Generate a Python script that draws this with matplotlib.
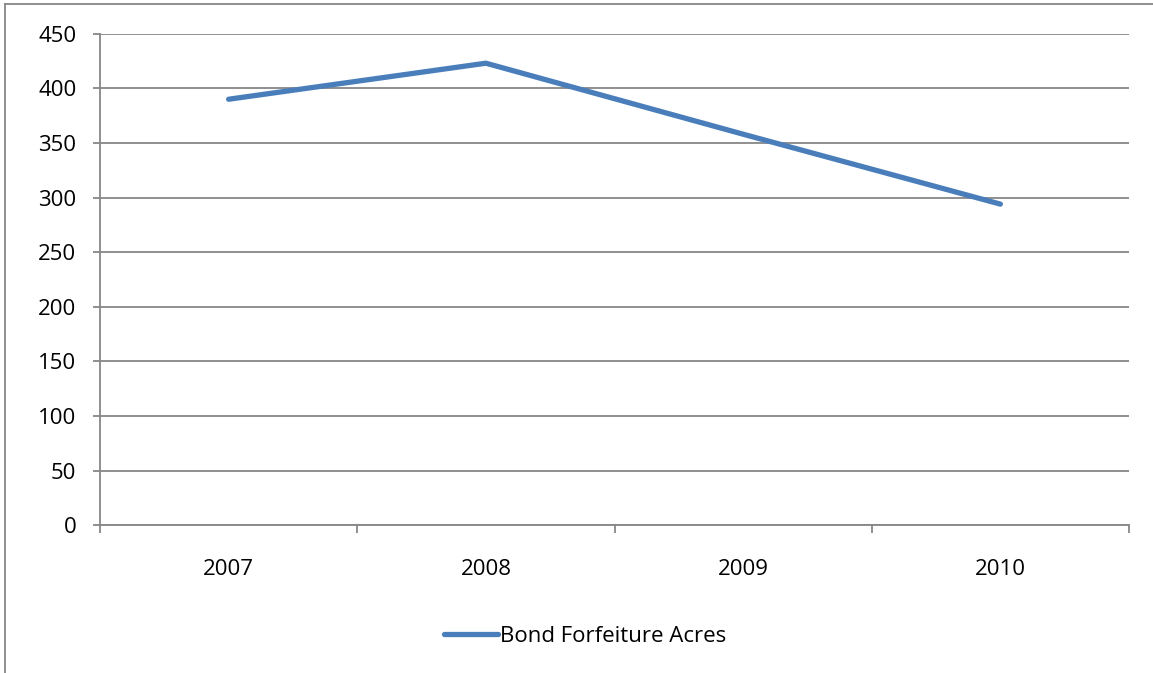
import matplotlib
matplotlib.use('Agg')
import matplotlib.pyplot as plt
from matplotlib.lines import Line2D

years = ['2007', '2008', '2009', '2010']
acres = [390, 423, 358, 294]
y_ticks = [0, 50, 100, 150, 200, 250, 300, 350, 400, 450]

plt.rcParams['font.family'] = ['Open Sans', 'DejaVu Sans']
W, H = 1153, 673
fig = plt.figure(figsize=(W / 100, H / 100), dpi=100)
ax = fig.add_axes([100 / W, 1 - 525.3 / H, 1029 / W, (525.3 - 33.7) / H])

grid_c = '#878787'
x = range(len(years))
ax.plot(x, acres, color='#4A7EBB', lw=3.8, solid_capstyle='round',
        solid_joinstyle='miter', label='Bond Forfeiture Acres', zorder=3)

ax.set_xlim(-0.5, len(years) - 0.5)
ax.set_ylim(0, 450)
ax.set_yticks(y_ticks)
ax.set_yticklabels([str(v) for v in y_ticks])
ax.yaxis.grid(True, color=grid_c, lw=1.3)
ax.set_axisbelow(True)

ax.set_xticks(list(x))
ax.set_xticklabels(years)
ax.set_xticks([i - 0.5 for i in range(len(years) + 1)], minor=True)
ax.tick_params(axis='x', which='major', length=0, pad=24, labelsize=16)
ax.tick_params(axis='x', which='minor', length=6, width=1.3, color=grid_c)
ax.tick_params(axis='y', length=5, width=1.3, color=grid_c, pad=12, labelsize=16)

for s in ['top', 'right']:
    ax.spines[s].set_visible(False)
for s in ['left', 'bottom']:
    ax.spines[s].set_color(grid_c)
    ax.spines[s].set_linewidth(1.3)

leg = fig.legend(loc='center', bbox_to_anchor=(585 / W, 1 - 636 / H), frameon=False,
                 fontsize=16, handlelength=2.45, handletextpad=0.1)

# outer chart border (left and top edges visible)
fig.add_artist(Line2D([5 / W, 5 / W], [0, 1 - 4 / H], color=grid_c, lw=1.3))
fig.add_artist(Line2D([5 / W, 1], [1 - 4 / H, 1 - 4 / H], color=grid_c, lw=1.3))

fig.savefig('out.png', dpi=100)
